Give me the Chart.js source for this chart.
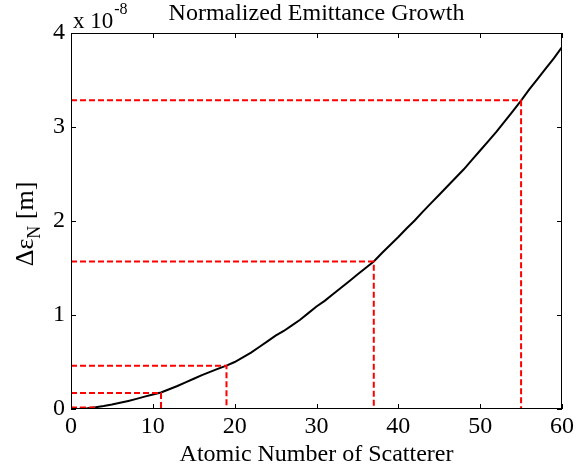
<!DOCTYPE html>
<html>
<head>
<meta charset="utf-8">
<script src="https://cdn.jsdelivr.net/npm/chart.js@4.4.0/dist/chart.umd.min.js"></script>
<style>
  html, body { margin: 0; padding: 0; background: #fff; }
  #wrap { width: 585px; height: 471px; position: relative; }
</style>
</head>
<body>
<div id="wrap"><canvas id="c" width="585" height="471"></canvas></div>
<script>
// Atomic number of scatterer (x) and normalized emittance growth (units of 1e-8 m)
const atomicNumbers = [0,1,2,3,4,5,6,7,8,9,10,11,12,13,14,15,16,17,18,19,20,21,22,23,24,25,26,27,28,29,30,31,32,33,34,35,36,37,38,39,40,41,42,43,44,45,46,47,48,49,50,51,52,53,54,55,56,57,58,59,60];
const emittanceGrowth = [0,0.002,0.008,0.018,0.032,0.048,0.066,0.086,0.108,0.132,0.155,0.176,0.21,0.245,0.283,0.322,0.36,0.395,0.43,0.462,0.50,0.55,0.60,0.66,0.72,0.78,0.83,0.89,0.95,1.02,1.09,1.15,1.22,1.29,1.36,1.43,1.50,1.57,1.66,1.745,1.83,1.92,2.005,2.10,2.19,2.28,2.37,2.46,2.55,2.65,2.75,2.85,2.95,3.06,3.17,3.28,3.40,3.51,3.62,3.73,3.85];
// Marked scatterers (dashed guide lines)
const markedZ = [3, 11, 19, 37, 55];
const markedGrowth = [0.015, 0.171, 0.459, 1.568, 3.285];
const xTicks = [0,10,20,30,40,50,60];
const yTicks = [0,1,2,3,4];

const FONT = "'Liberation Serif', 'Times New Roman', serif";

const curve = atomicNumbers.map((z, i) => ({x: z, y: emittanceGrowth[i]}));
const guideSets = markedZ.map((z, i) => ({
  data: [{x: 0, y: markedGrowth[i]}, {x: z, y: markedGrowth[i]}, {x: z, y: 0}],
  borderColor: '#ff0000',
  borderWidth: 2,
  borderDash: [6, 3],
  pointRadius: 0,
  fill: false,
  tension: 0
}));

const frame = {
  id: 'frame',
  afterDraw(chart) {
    const ctx = chart.ctx;
    const a = chart.chartArea;
    const xs = chart.scales.x, ys = chart.scales.y;
    ctx.save();
    ctx.strokeStyle = '#000';
    ctx.lineWidth = 1;
    ctx.strokeRect(a.left + 0.5, a.top + 0.5, a.right - a.left - 1, a.bottom - a.top - 1);
    const L = 5;
    ctx.beginPath();
    xTicks.forEach(v => {
      const px = Math.round(xs.getPixelForValue(v)) + 0.5;
      ctx.moveTo(px, a.bottom); ctx.lineTo(px, a.bottom - L);
      ctx.moveTo(px, a.top); ctx.lineTo(px, a.top + L);
    });
    yTicks.forEach(v => {
      const py = Math.round(ys.getPixelForValue(v)) + 0.5;
      ctx.moveTo(a.left, py); ctx.lineTo(a.left + L, py);
      ctx.moveTo(a.right, py); ctx.lineTo(a.right - L, py);
    });
    ctx.stroke();

    ctx.fillStyle = '#000';
    // Title
    ctx.font = '24px ' + FONT;
    ctx.textAlign = 'center';
    ctx.textBaseline = 'alphabetic';
    ctx.fillText('Normalized Emittance Growth', (a.left + a.right) / 2, 20);
    // Exponent label
    ctx.textAlign = 'left';
    ctx.font = '23px ' + FONT;
    ctx.fillText('x 10', a.left + 2, 28);
    const w = ctx.measureText('x 10').width;
    ctx.font = '16px ' + FONT;
    ctx.fillText('-8', a.left + 2 + w + 1, 14);

    // Y-axis title rotated with subscript
    ctx.save();
    ctx.translate(33, (a.top + a.bottom) / 2 + 3);
    ctx.rotate(-Math.PI / 2);
    ctx.font = '26px ' + FONT;
    const t1 = '\u0394\u03b5', t2 = 'N', t3 = ' [m]';
    const w1 = ctx.measureText(t1).width;
    ctx.font = '18px ' + FONT;
    const w2 = ctx.measureText(t2).width;
    ctx.font = '26px ' + FONT;
    const w3 = ctx.measureText(t3).width;
    let x0 = -(w1 + w2 + w3) / 2;
    ctx.textAlign = 'left';
    ctx.fillText(t1, x0, 0);
    ctx.font = '18px ' + FONT;
    ctx.fillText(t2, x0 + w1, 7);
    ctx.font = '26px ' + FONT;
    ctx.fillText(t3, x0 + w1 + w2, 0);
    ctx.restore();
    ctx.restore();
  }
};

new Chart(document.getElementById('c'), {
  type: 'line',
  data: {
    datasets: [
      ...guideSets,
      {
        data: curve,
        borderColor: '#000',
        borderWidth: 2,
        pointRadius: 0,
        fill: false,
        tension: 0
      }
    ]
  },
  options: {
    responsive: false,
    animation: false,
    devicePixelRatio: 1,
    layout: { padding: { top: 33, right: 23, left: 0, bottom: 0 } },
    plugins: { legend: { display: false }, tooltip: { enabled: false }, title: { display: false } },
    scales: {
      x: {
        type: 'linear',
        min: 0, max: 60,
        afterBuildTicks: s => { s.ticks = xTicks.map(v => ({value: v})); },
        afterFit: s => { s.height = 62; },
        grid: { display: false, drawTicks: false },
        border: { display: false },
        ticks: { color: '#000', font: { family: FONT, size: 24 }, padding: 3, maxRotation: 0 },
        title: { display: true, text: 'Atomic Number of Scatterer', color: '#000', font: { family: FONT, size: 24 }, padding: { top: 0, bottom: 2 } }
      },
      y: {
        type: 'linear',
        min: 0, max: 4,
        afterBuildTicks: s => { s.ticks = yTicks.map(v => ({value: v})); },
        afterFit: s => { s.width = 71; },
        grid: { display: false, drawTicks: false },
        border: { display: false },
        ticks: { color: '#000', font: { family: FONT, size: 24 }, padding: 6 }
      }
    }
  },
  plugins: [frame]
});
</script>
</body>
</html>
